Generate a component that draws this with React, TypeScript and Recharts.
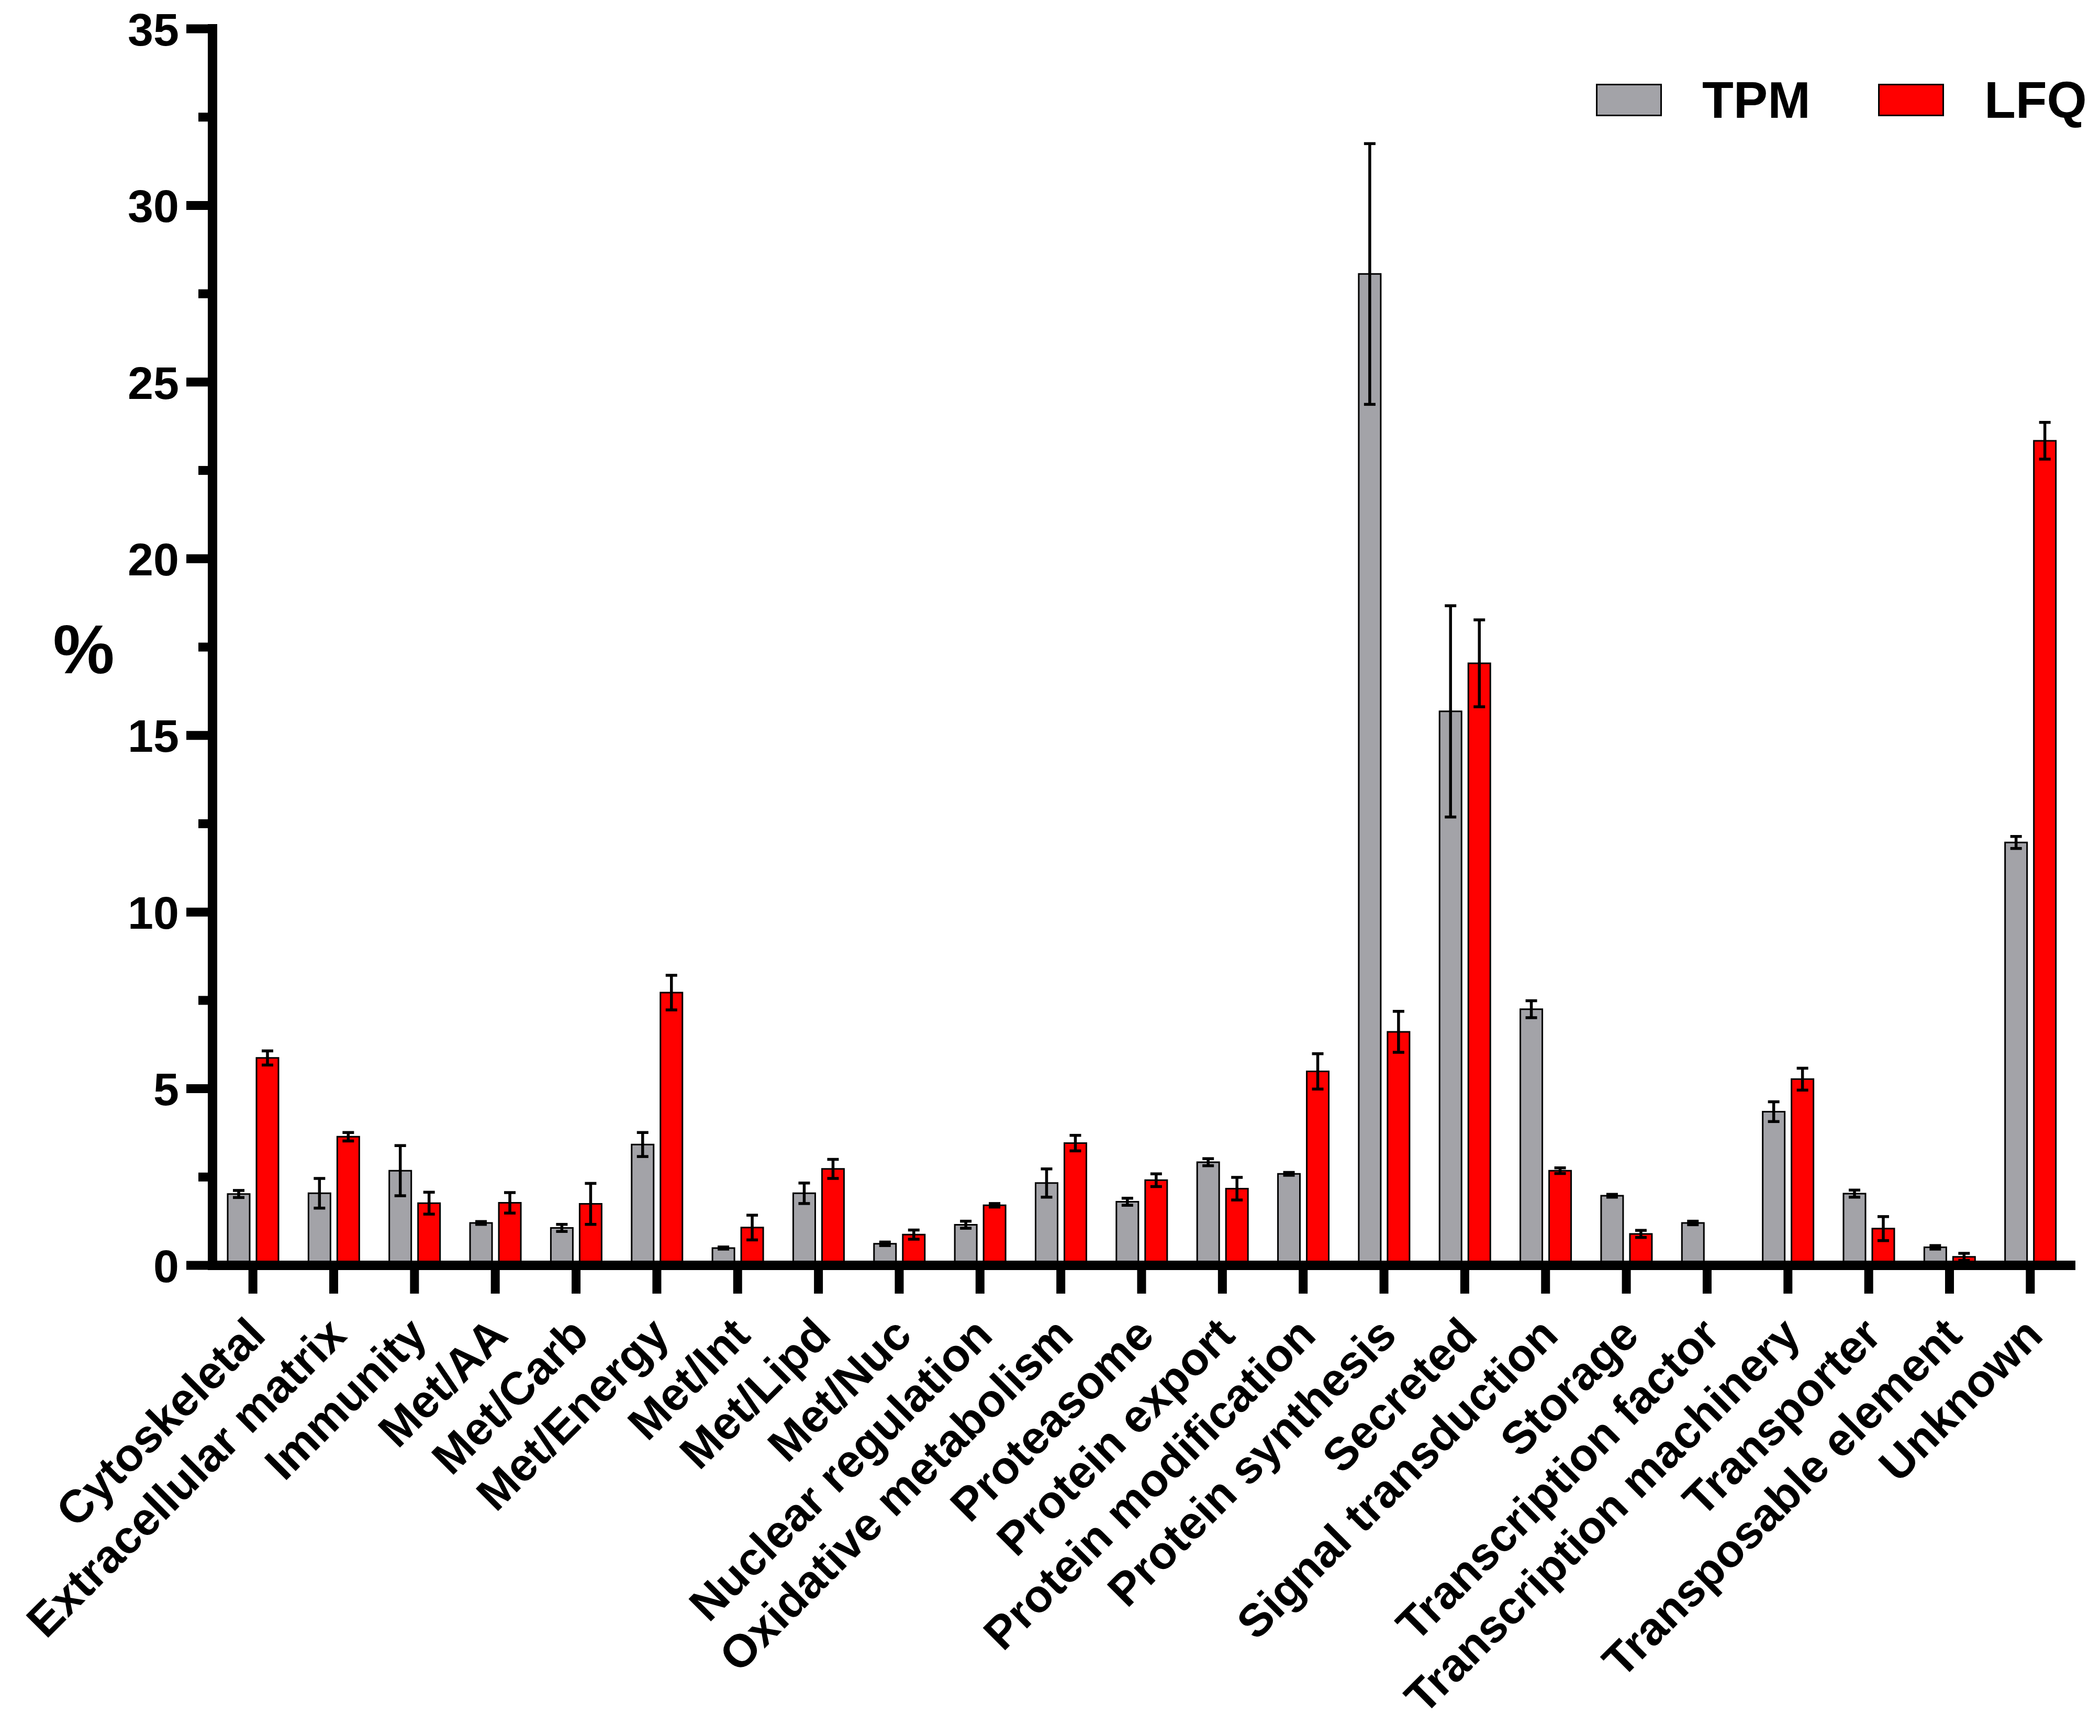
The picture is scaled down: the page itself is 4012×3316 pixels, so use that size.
import React from 'react';
import { BarChart, Bar, XAxis, YAxis, ErrorBar, Legend } from 'recharts';

const categories = [
  'Cytoskeletal', 'Extracellular matrix', 'Immunity', 'Met/AA', 'Met/Carb', 'Met/Energy',
  'Met/Int', 'Met/Lipd', 'Met/Nuc', 'Nuclear regulation', 'Oxidative metabolism', 'Proteasome',
  'Protein export', 'Protein modification', 'Protein synthesis', 'Secreted', 'Signal transduction',
  'Storage', 'Transcription factor', 'Transcription machinery', 'Transporter',
  'Transposable element', 'Unknown',
];

const tpmValues = [
  2.02, 2.04, 2.68, 1.2, 1.06, 3.42, 0.49, 2.04, 0.61, 1.15, 2.33, 1.8,
  2.92, 2.59, 28.06, 15.68, 7.25, 1.97, 1.2, 4.35, 2.03, 0.51, 11.97,
];
const tpmErrors = [
  0.1, 0.42, 0.71, 0.04, 0.1, 0.34, 0.03, 0.29, 0.05, 0.1, 0.4, 0.1,
  0.1, 0.04, 3.69, 2.99, 0.24, 0.04, 0.05, 0.28, 0.1, 0.05, 0.17,
];
const lfqValues = [
  5.87, 3.64, 1.76, 1.77, 1.74, 7.72, 1.07, 2.73, 0.87, 1.7, 3.46, 2.41,
  2.17, 5.49, 6.61, 17.04, 2.68, 0.89, 0, 5.27, 1.04, 0.24, 23.34,
];
const lfqErrors = [
  0.2, 0.12, 0.31, 0.29, 0.58, 0.49, 0.35, 0.27, 0.13, 0.05, 0.22, 0.18,
  0.32, 0.5, 0.58, 1.23, 0.08, 0.1, 0, 0.31, 0.34, 0.1, 0.52,
];

const seriesOrder = ['TPM', 'LFQ'];
const yTicks = [0, 2.5, 5, 7.5, 10, 12.5, 15, 17.5, 20, 22.5, 25, 27.5, 30, 32.5, 35];

const data = categories.map((name, i) => ({
  name,
  tpm: tpmValues[i],
  tpmErr: tpmErrors[i],
  lfq: lfqValues[i],
  lfqErr: lfqErrors[i],
}));

const FONT = '"Liberation Sans", Arial, Helvetica, sans-serif';
const AXIS_X = 406;

const YTick = (props: any) => {
  const { y, payload } = props;
  const major = payload.value % 5 === 0;
  return (
    <g>
      <line x1={AXIS_X - (major ? 50 : 27)} x2={AXIS_X} y1={y} y2={y} stroke="#000" strokeWidth={17} />
      {major && (
        <text x={342} y={y} dy="0.36em" textAnchor="end" fontFamily={FONT} fontWeight="bold" fontSize={88} fill="#000">
          {payload.value}
        </text>
      )}
    </g>
  );
};

const XTick = (props: any) => {
  const { x, y, payload } = props;
  const tx = x + 28;
  const ty = y + 84;
  return (
    <text
      x={tx}
      y={ty}
      textAnchor="end"
      transform={`rotate(-45, ${tx}, ${ty})`}
      fontFamily={FONT}
      fontWeight="bold"
      fontSize={88}
      fill="#000"
    >
      {payload.value}
    </text>
  );
};

const LegendContent = (props: any) => {
  const items = [...(props.payload || [])].sort(
    (a: any, b: any) => seriesOrder.indexOf(a.value) - seriesOrder.indexOf(b.value)
  );
  return (
    <div style={{ display: 'flex', alignItems: 'center', fontFamily: FONT, fontWeight: 'bold', fontSize: 98, lineHeight: 1, color: '#000' }}>
      {items.map((entry: any, i: number) => (
        <div key={entry.value} style={{ display: 'flex', alignItems: 'center', marginLeft: i ? 129 : 0 }}>
          <span style={{ display: 'inline-block', width: 120, height: 56, border: '3px solid #000', background: entry.color, marginRight: 77 }} />
          <span>{entry.value}</span>
        </div>
      ))}
    </div>
  );
};

const PercentLabel = (props: any) => {
  const { viewBox } = props;
  return (
    <text
      x={viewBox.x + 160}
      y={viewBox.y + viewBox.height / 2 + 50}
      textAnchor="middle"
      fontFamily={FONT}
      fontWeight="bold"
      fontSize={132}
      fill="#000"
    >
      %
    </text>
  );
};

export default function App() {
  return (
    <div style={{ position: 'absolute', left: 0, top: 0, width: 4012, height: 3316, background: '#fff' }}>
      <BarChart
        width={4012}
        height={3316}
        data={data}
        margin={{ top: 55, right: 56, bottom: 0, left: 0 }}
        barSize={42}
        barGap={13}
      >
        <Legend
          content={<LegendContent />}
          layout="horizontal"
          verticalAlign="middle"
          align="center"
          wrapperStyle={{ position: 'absolute', left: 3049, top: 142, width: 'auto', height: 'auto', margin: 0 }}
        />
        <Bar dataKey="tpm" name="TPM" fill="#a3a3a8" stroke="#000" strokeWidth={3} isAnimationActive={false}>
          <ErrorBar dataKey="tpmErr" width={11} strokeWidth={5.5} stroke="#000" isAnimationActive={false} />
        </Bar>
        <Bar dataKey="lfq" name="LFQ" fill="#ff0000" stroke="#000" strokeWidth={3} isAnimationActive={false}>
          <ErrorBar dataKey="lfqErr" width={11} strokeWidth={5.5} stroke="#000" isAnimationActive={false} />
        </Bar>
        <XAxis
          dataKey="name"
          interval={0}
          height={899}
          tickSize={54}
          tickMargin={0}
          axisLine={{ stroke: '#000', strokeWidth: 18, strokeLinecap: 'square' }}
          tickLine={{ stroke: '#000', strokeWidth: 17 }}
          tick={<XTick />}
        />
        <YAxis
          type="number"
          domain={[0, 35]}
          ticks={yTicks}
          interval={0}
          width={AXIS_X}
          tickLine={false}
          axisLine={{ stroke: '#000', strokeWidth: 18, strokeLinecap: 'square' }}
          tick={<YTick />}
          label={{ content: <PercentLabel /> }}
        />
      </BarChart>
    </div>
  );
}
